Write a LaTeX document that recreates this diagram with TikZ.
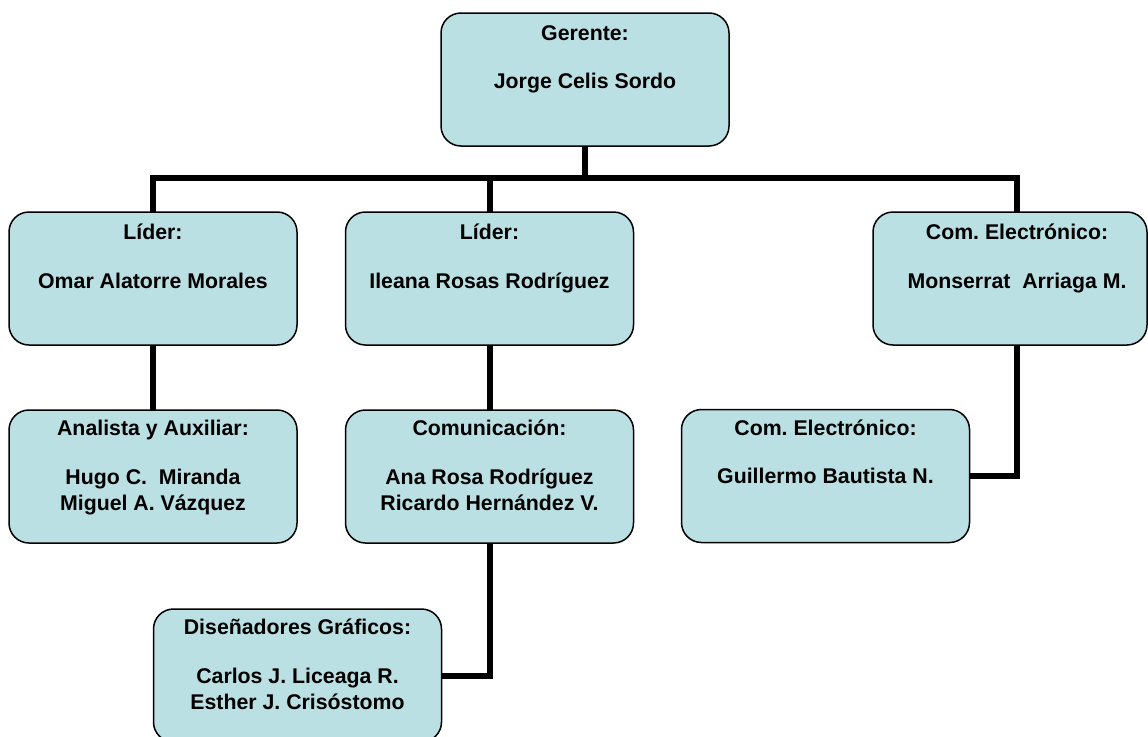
\documentclass[tikz,border=0pt]{standalone}
\usepackage{fontspec}
\setmainfont{Liberation Sans}
\frenchspacing
\definecolor{boxfill}{RGB}{187,224,227}
\tikzset{
  orgbox/.style={draw=black, line width=1.5pt, fill=boxfill, rounded corners=20pt,
    minimum width=288pt, minimum height=133pt, inner sep=0pt, outer sep=0pt},
  orgtext/.style={anchor=north, align=center, inner sep=0pt,
    font=\bfseries\fontsize{21.3}{26}\selectfont,
    execute at begin node=\rule{0pt}{20pt}},
  link/.style={line width=6pt, draw=black, line join=miter}
}
\begin{document}
\begin{tikzpicture}[x=1pt,y=-1pt]
\useasboundingbox (0,0) rectangle (1148,736);
\clip (0,0) rectangle (1148,736);

% boxes
\node[orgbox] (g)  at (585,79.5) {};
\node[orgbox] (l1) at (153,278.5) {};
\node[orgbox] (l2) at (489.5,278.5) {};
\node[orgbox, minimum width=274pt] (l3) at (1010,278.5) {};
\node[orgbox] (a)  at (153,476.5) {};
\node[orgbox] (c)  at (489.5,476.5) {};
\node[orgbox] (e2) at (825.5,476) {};
\node[orgbox] (d)  at (297.5,675.5) {};

% connectors
\coordinate (j) at (585,178);
\draw[link] (g.south) -- (j);
\draw[link] (l1.north) |- (j) -| ([xshift=7pt]l3.north);
\draw[link] (l2.north) -- (l2.north |- j);
\draw[link] (l1.south) -- (a.north);
\draw[link] (l2.south) -- (c.north);
\draw[link] ([xshift=7pt]l3.south) |- (e2.east);
\draw[link] (c.south) |- (d.east);

% texts
\node[orgtext] (gt)  at ([yshift=-12pt]g.north) {Gerente:\\[22.5pt]Jorge Celis Sordo};
\node[orgtext] (l1t) at ([yshift=-12pt]l1.north) {Líder:\\[22.5pt]Omar Alatorre Morales};
\node[orgtext] (l2t) at ([yshift=-12pt]l2.north) {Líder:\\[22.5pt]Ileana Rosas Rodríguez};
\node[orgtext] (l3t) at ([xshift=7pt,yshift=-12pt]l3.north) {Com. Electrónico:\\[22.5pt]Monserrat\ \ Arriaga M.};
\node[orgtext] (at)  at ([yshift=-10pt]a.north) {Analista y Auxiliar:\\[22.5pt]Hugo C.\ \ Miranda\\Miguel A. Vázquez};
\node[orgtext] (ct)  at ([yshift=-10pt]c.north) {Comunicación:\\[22.5pt]Ana Rosa Rodríguez\\Ricardo Hernández V.};
\node[orgtext] (e2t) at ([yshift=-10pt]e2.north) {Com. Electrónico:\\[22.5pt]Guillermo Bautista N.};
\node[orgtext] (dt)  at ([yshift=-10pt]d.north) {Diseñadores Gráficos:\\[22.5pt]Carlos J. Liceaga R.\\Esther J. Crisóstomo};
\end{tikzpicture}
\end{document}
